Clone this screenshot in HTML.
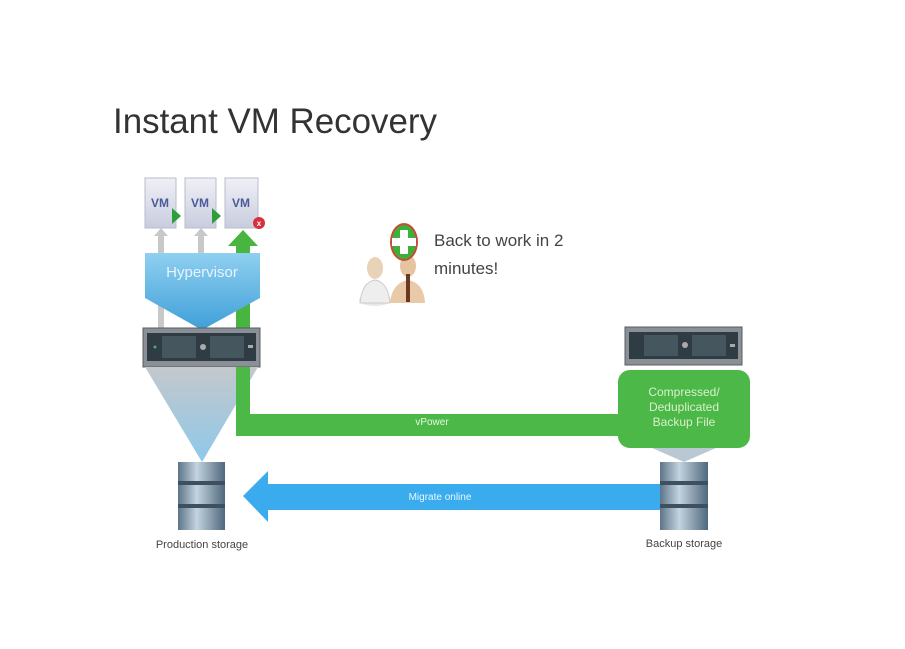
<!DOCTYPE html>
<html><head><meta charset="utf-8"><style>
html,body{margin:0;padding:0;background:#fff;}
svg{display:block;}
text{font-family:"Liberation Sans",sans-serif;}
</style></head><body>
<svg width="905" height="649" viewBox="0 0 905 649" xmlns="http://www.w3.org/2000/svg">
<defs>
<linearGradient id="hyp" x1="0" y1="0" x2="0" y2="1"><stop offset="0" stop-color="#8fd0f0"/><stop offset="1" stop-color="#3f9fd8"/></linearGradient>
<linearGradient id="cone" x1="0" y1="0" x2="0" y2="1"><stop offset="0" stop-color="#c4c8cc"/><stop offset="1" stop-color="#8ec8ea"/></linearGradient>
<linearGradient id="cyl" x1="0" y1="0" x2="1" y2="0"><stop offset="0" stop-color="#5d7588"/><stop offset="0.4" stop-color="#c3d3df"/><stop offset="1" stop-color="#4f687c"/></linearGradient>
<linearGradient id="vm" x1="0" y1="0" x2="0" y2="1"><stop offset="0" stop-color="#f0f0f6"/><stop offset="1" stop-color="#c8ccde"/></linearGradient>
</defs>
<text x="113" y="133" font-size="35" fill="#333" textLength="324" lengthAdjust="spacingAndGlyphs">Instant VM Recovery</text>

<!-- VMs -->
<g>
<rect x="145" y="178" width="31" height="50" fill="url(#vm)" stroke="#b8bccc"/>
<rect x="185" y="178" width="31" height="50" fill="url(#vm)" stroke="#b8bccc"/>
<rect x="225" y="178" width="33" height="50" fill="url(#vm)" stroke="#b8bccc"/>
<text x="160" y="207" font-size="12" font-weight="bold" fill="#4a5a9a" text-anchor="middle">VM</text>
<text x="200" y="207" font-size="12" font-weight="bold" fill="#4a5a9a" text-anchor="middle">VM</text>
<text x="241" y="207" font-size="12" font-weight="bold" fill="#4a5a9a" text-anchor="middle">VM</text>
<polygon points="172,208 181,216 172,224" fill="#2e9e3a"/>
<polygon points="212,208 221,216 212,224" fill="#2e9e3a"/>
<circle cx="259" cy="223" r="6" fill="#d8303a"/>
<text x="259" y="226" font-size="8" fill="#fff" text-anchor="middle" font-weight="bold">x</text>
</g>
<!-- gray arrows -->
<rect x="158" y="234" width="6" height="95" fill="#c8c8c8"/>
<polygon points="154,236 161,228 168,236" fill="#c8c8c8"/>
<rect x="198" y="234" width="6" height="95" fill="#c8c8c8"/>
<polygon points="194,236 201,228 208,236" fill="#c8c8c8"/>
<!-- green arrow up -->
<rect x="236" y="244" width="14" height="86" fill="#48b540"/>
<polygon points="228,246 243,230 258,246" fill="#48b540"/>
<!-- hypervisor -->
<path d="M145,253 H260 V298 L202,330 L145,298 Z" fill="url(#hyp)"/>
<text x="202" y="277" font-size="15" fill="#e8f4fc" text-anchor="middle">Hypervisor</text>
<!-- left server -->
<rect x="143" y="328" width="117" height="39" fill="#8a9096" stroke="#555c62"/>
<rect x="147" y="333" width="109" height="28" fill="#2f3c44"/>
<rect x="162" y="336" width="34" height="22" fill="#46565e"/>
<rect x="210" y="336" width="34" height="22" fill="#46565e"/>
<circle cx="203" cy="347" r="3" fill="#aaa"/>
<rect x="248" y="345" width="5" height="3" fill="#aaa"/>
<circle cx="155" cy="347" r="1.5" fill="#4a8"/>
<!-- cone left -->
<polygon points="145,367 258,367 202,462" fill="url(#cone)"/>
<!-- green L -->
<path d="M236,367 H250 V414 H620 V436 H236 Z" fill="#4cb848"/>
<text x="432" y="425" font-size="10" fill="#e8f8e0" text-anchor="middle">vPower</text>
<!-- right server -->
<rect x="625" y="327" width="117" height="38" fill="#8a9096" stroke="#555c62"/>
<rect x="629" y="332" width="109" height="27" fill="#2f3c44"/>
<rect x="644" y="335" width="34" height="21" fill="#46565e"/>
<rect x="692" y="335" width="34" height="21" fill="#46565e"/>
<circle cx="685" cy="345" r="3" fill="#aaa"/>
<rect x="730" y="344" width="5" height="3" fill="#aaa"/>
<!-- green box -->
<rect x="618" y="370" width="132" height="78" rx="12" fill="#4cb848"/>
<polygon points="652,448 716,448 684,462" fill="#b9c8d2"/>
<text x="684" y="396" font-size="12" fill="#d8f0cc" text-anchor="middle">Compressed/</text>
<text x="684" y="411" font-size="12" fill="#d8f0cc" text-anchor="middle">Deduplicated</text>
<text x="684" y="426" font-size="12" fill="#d8f0cc" text-anchor="middle">Backup File</text>
<!-- blue arrow -->
<polygon points="243,496 268,471 268,484 662,484 662,510 268,510 268,522" fill="#3aacee"/>
<text x="440" y="500" font-size="10" fill="#e8f6fe" text-anchor="middle">Migrate online</text>
<!-- cylinders -->
<g>
<rect x="178" y="462" width="47" height="68" fill="url(#cyl)"/>
<rect x="178" y="481" width="47" height="4" fill="#3e5060"/>
<rect x="178" y="504" width="47" height="4" fill="#3e5060"/>
<rect x="660" y="462" width="48" height="68" fill="url(#cyl)"/>
<rect x="660" y="481" width="48" height="4" fill="#3e5060"/>
<rect x="660" y="504" width="48" height="4" fill="#3e5060"/>
</g>
<text x="202" y="548" font-size="11" fill="#444" text-anchor="middle">Production storage</text>
<text x="684" y="547" font-size="11" fill="#444" text-anchor="middle">Backup storage</text>
<!-- people icon -->
<g>
<ellipse cx="375" cy="300" rx="16" ry="6" fill="#e8e8e8"/>
<path d="M360,303 Q362,282 375,280 Q388,282 390,303 Z" fill="#eee" stroke="#ccc"/>
<ellipse cx="375" cy="268" rx="8" ry="11" fill="#e8d2b8"/>
<path d="M390,303 Q392,283 408,280 Q424,283 425,303 Z" fill="#e8c9a8"/>
<ellipse cx="408" cy="266" rx="8" ry="11" fill="#e6c4a0"/>
<rect x="406" y="274" width="4" height="28" fill="#6a3a20"/>
<ellipse cx="404" cy="242" rx="14" ry="19" fill="#c84a3a"/>
<ellipse cx="404" cy="242" rx="12" ry="17" fill="#3eb03a"/>
<rect x="400" y="230" width="8" height="24" fill="#fff"/>
<rect x="392" y="238" width="24" height="8" fill="#fff"/>
</g>
<text x="434" y="246" font-size="17" fill="#444">Back to work in 2</text>
<text x="434" y="274" font-size="17" fill="#444">minutes!</text>
</svg>
</body></html>
